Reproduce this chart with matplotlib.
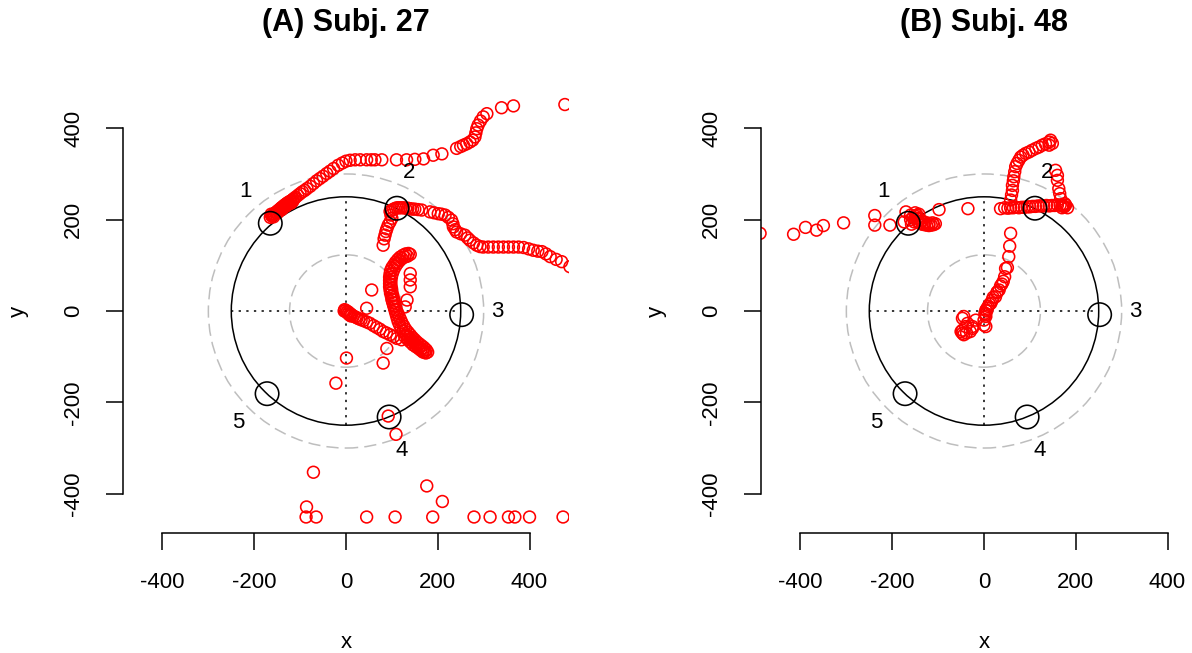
import numpy as np
import matplotlib
matplotlib.use("Agg")
import matplotlib.pyplot as plt
from matplotlib.patches import Circle

plt.rcParams['font.family'] = ['Liberation Sans', 'DejaVu Sans']

# target locations on the r=250 ring and where their numbers go
target_x = [-165, 111, 252, 94, -172]
target_y = [192, 225, -8, -232, -181]
target_names = ["1", "2", "3", "4", "5"]
name_x = [-218, 137, 329, 121, -235]
name_y = [262, 304, -2, -306, -245]

ring_radius = 250
inner_radius = 123
outer_radius = 300

# ---- subject 27 cursor samples ----
s27_x = [
    # path out past target 1 to the top right
    -165, -162, -160, -158, -156, -154, -152, -150, -148, -145, -143, -141, -139, -137, -135, -133,
    -131, -129, -127, -125, -122, -120, -117, -115, -112, -110, -105, -100, -95, -90, -85, -78,
    -71, -64, -57, -50, -42, -35, -27, -17, -8, 0, 9, 20, 31, 45, 55, 63, 78, 110, 132, 150,
    169, 190, 209, 241, 250, 256, 263, 270, 276, 281, 283, 285, 288, 293, 299, 307, 339, 365, 477,
    -163, -158, -150, -146, -140, -136, -130, -126, -120, -116,
    # target 2 cluster and the drift down-left
    96, 100, 104, 108, 112, 116, 120, 125, 130, 135, 140, 145, 150, 157, 165,
    98, 100, 96, 92, 89, 87, 85, 83, 81,
    # path out past target 2 to the right
    183, 192, 201, 208, 216, 223, 230, 233, 234, 238, 241, 250, 259, 265, 270, 278, 285, 292,
    299, 310, 321, 332, 343, 354, 365, 376, 387, 398, 408, 418, 427, 436, 445, 458, 470, 488,
    # centre towards lower right
    -3, 0, 3, 6, 9, 12, 16, 20, 24, 28, 33, 38, 45, 52, 60, 67, 74, 81, 88, 96, 104, 111, 121,
    -4, 2, 5, 8, 11,
    # bent stroke
    172, 168, 164, 160, 156, 152, 148, 144, 140, 136, 132, 128, 124, 120, 117, 114, 112, 110,
    108, 106, 104, 102, 100, 99, 97, 96, 95, 95, 95, 95, 96, 97, 100, 104, 108, 113, 118, 124,
    130, 136, 140,
    175, 170, 165, 160, 155, 150, 145, 140, 135, 130, 126, 122, 119, 116, 113, 110, 108, 106,
    104, 102, 100, 99, 98, 98, 99, 101, 104, 108, 112, 117, 122, 128, 134,
    178, 174, 168, 163, 158, 152, 146, 140, 134, 128,
    140, 140, 140, 133, 129,
    # stray samples
    56, 45, 89, 81, 1, -22, 92, 109, -71, 176, 210, -86,
    -87, -65, 45, 107, 189, 279, 314, 354, 368, 400, 473,
]
s27_y = [
    205, 208, 210, 212, 213, 215, 216, 218, 220, 222, 224, 226, 227, 229, 231, 232,
    234, 235, 237, 238, 240, 241, 243, 245, 247, 249, 253, 257, 261, 264, 268, 273,
    279, 285, 290, 295, 301, 306, 312, 319, 324, 328, 330, 331, 331, 331, 331, 331, 331, 331, 331, 332,
    333, 341, 344, 356, 360, 363, 366, 370, 374, 381, 390, 399, 407, 416, 425, 432, 445, 449, 452,
    212, 206, 214, 218, 222, 226, 230, 234, 236, 240,
    218, 221, 223, 225, 226, 226, 226, 226, 225, 225, 224, 223, 223, 222, 221,
    210, 203, 195, 188, 180, 174, 166, 158, 144,
    217, 215, 213, 212, 210, 205, 199, 191, 184, 178, 173, 169, 166, 160, 155, 149, 144, 141,
    140, 140, 140, 140, 140, 140, 140, 140, 139, 136, 133, 131, 130, 125, 119, 113, 108, 97,
    3, 1, -1, -3, -6, -8, -11, -13, -15, -17, -19, -21, -24, -27, -32, -36, -40, -45, -48, -52, -56, -60, -63,
    0, -3, -6, -9, -11,
    -89, -86, -83, -80, -77, -73, -69, -65, -61, -57, -53, -49, -44, -38, -31, -24, -17, -10,
    -3, 4, 11, 18, 25, 32, 39, 46, 53, 60, 67, 74, 81, 88, 95, 101, 107, 113, 118, 122,
    125, 126, 124,
    -85, -80, -76, -72, -68, -63, -58, -52, -46, -40, -33, -26, -19, -12, -5, 2, 10, 18,
    26, 34, 42, 50, 58, 66, 74, 82, 90, 98, 104, 110, 115, 118, 120,
    -90, -92, -90, -86, -82, -78, -74, -68, -62, -56,
    82, 68, 53, 24, 9,
    46, 6, -82, -114, -103, -158, -230, -270, -353, -383, -417, -429,
    -451, -451, -451, -451, -451, -451, -451, -451, -451, -451, -451,
]

# ---- subject 48 cursor samples ----
s48_x = [
    # path in from the far left to target 1
    -488, -415, -389, -365, -350, -306, -238, -238, -205, -174, -170,
    -160, -155, -150, -146, -152, -145, -140, -135, -130, -125, -120, -115, -110, -106,
    -140, -135, -128, -120, -112, -145, -158, -160, -150, -142,
    -98, -35,
    # cluster through target 2
    36, 45, 52, 58, 64, 70, 76, 82, 88, 94, 100, 106, 112, 118, 124, 130, 136, 142, 148, 154,
    160, 166, 172, 178, 175, 170, 182,
    # loop above target 2
    58, 60, 62, 62, 64, 65, 67, 69, 72, 76, 80, 85, 91, 98, 105, 113, 120, 127, 134, 142, 145,
    149, 142,
    156, 160, 160, 163, 165, 167, 171, 176,
    # start near the centre and up towards target 2
    58, 56, 54, 51, 47, 39, 33, 29, 25, 18, 15, 7, 4, 4, 0, 0, 4,
    2, 3, 6, 9, 12, 20, 28, 36, 42, 45,
    -44, -47, -36, -40, -47, -44, -47, -25, -25, -18, -30, -38, -50,
]
s48_y = [
    170, 168, 183, 177, 187, 193, 209, 188, 188, 195, 217,
    200, 205, 208, 210, 195, 196, 192, 190, 189, 188, 187, 188, 189, 191,
    200, 197, 194, 192, 193, 203, 190, 210, 215, 212,
    222, 224,
    224, 226, 225, 226, 226, 227, 226, 227, 227, 228, 228, 229, 229, 230, 230, 230, 231, 230, 231, 231,
    232, 232, 230, 232, 228, 226, 226,
    243, 254, 264, 275, 285, 294, 305, 316, 323, 330, 337, 341, 345, 348, 352, 356, 359, 363, 366, 370, 374,
    367, 363,
    308, 286, 297, 268, 257, 246, 232, 235,
    170, 142, 119, 95, 93, 59, 46, 42, 31, 24, 17, 6, 2, -12, -20, -31, -34,
    -5, -8, 0, 10, 15, 30, 40, 55, 65, 75,
    -12, -16, -27, -34, -42, -52, -49, -38, -34, -20, -45, -48, -45,
]

fig = plt.figure(figsize=(11.92, 6.53), dpi=100)
W, H = 1192.0, 653.0
lim = 486


def draw_panel(left_px, title, xs, ys):
    ax = fig.add_axes([left_px / W, (H - 533) / H, 446 / W, 444 / H])
    ax.set_xlim(-lim, lim)
    ax.set_ylim(-lim, lim)

    # reference rings
    for r, col, ls in [(outer_radius, "#bebebe", (0, (8, 4))),
                       (inner_radius, "#bebebe", (0, (8, 4))),
                       (ring_radius, "black", "solid")]:
        ax.add_patch(Circle((0, 0), r, fill=False, edgecolor=col, lw=1.1, linestyle=ls, zorder=1))
    ax.plot([-ring_radius, ring_radius], [0, 0], color="black", lw=1.1,
            linestyle=(0, (1.5, 3.5)), zorder=1)
    ax.plot([0, 0], [-ring_radius, ring_radius], color="black", lw=1.1,
            linestyle=(0, (1.5, 3.5)), zorder=1)

    ax.scatter(xs, ys, s=72, facecolors="none", edgecolors="red", linewidths=1.15, zorder=2)
    ax.scatter(target_x, target_y, s=285, facecolors="none", edgecolors="black",
               linewidths=1.15, zorder=3)
    for nx, ny, t in zip(name_x, name_y, target_names):
        ax.text(nx, ny, t, fontsize=16, ha="center", va="center", zorder=4)

    for s in ["top", "right"]:
        ax.spines[s].set_visible(False)
    ax.spines["bottom"].set_bounds(-400, 400)
    ax.spines["left"].set_bounds(-400, 400)
    ax.spines["bottom"].set_linewidth(1.1)
    ax.spines["left"].set_linewidth(1.1)
    ticks = [-400, -200, 0, 200, 400]
    ax.set_xticks(ticks)
    ax.set_yticks(ticks)
    ax.set_xticklabels([str(t) for t in ticks])
    ax.set_yticklabels([str(t) for t in ticks], rotation=90, va="center")
    ax.tick_params(direction="out", length=12, width=1.1, labelsize=16, pad=16)
    ax.set_xlabel("x", fontsize=16)
    ax.set_ylabel("y", fontsize=16)
    ax.xaxis.set_label_coords(0.5, -0.222)
    ax.yaxis.set_label_coords(-0.212, 0.5)
    ax.text(0.5, 1.148, title, transform=ax.transAxes, ha="center", va="center",
            fontsize=22, fontweight="bold")
    return ax


draw_panel(123, "(A) Subj. 27", s27_x, s27_y)
draw_panel(761, "(B) Subj. 48", s48_x, s48_y)

fig.savefig("out.png", dpi=100)
